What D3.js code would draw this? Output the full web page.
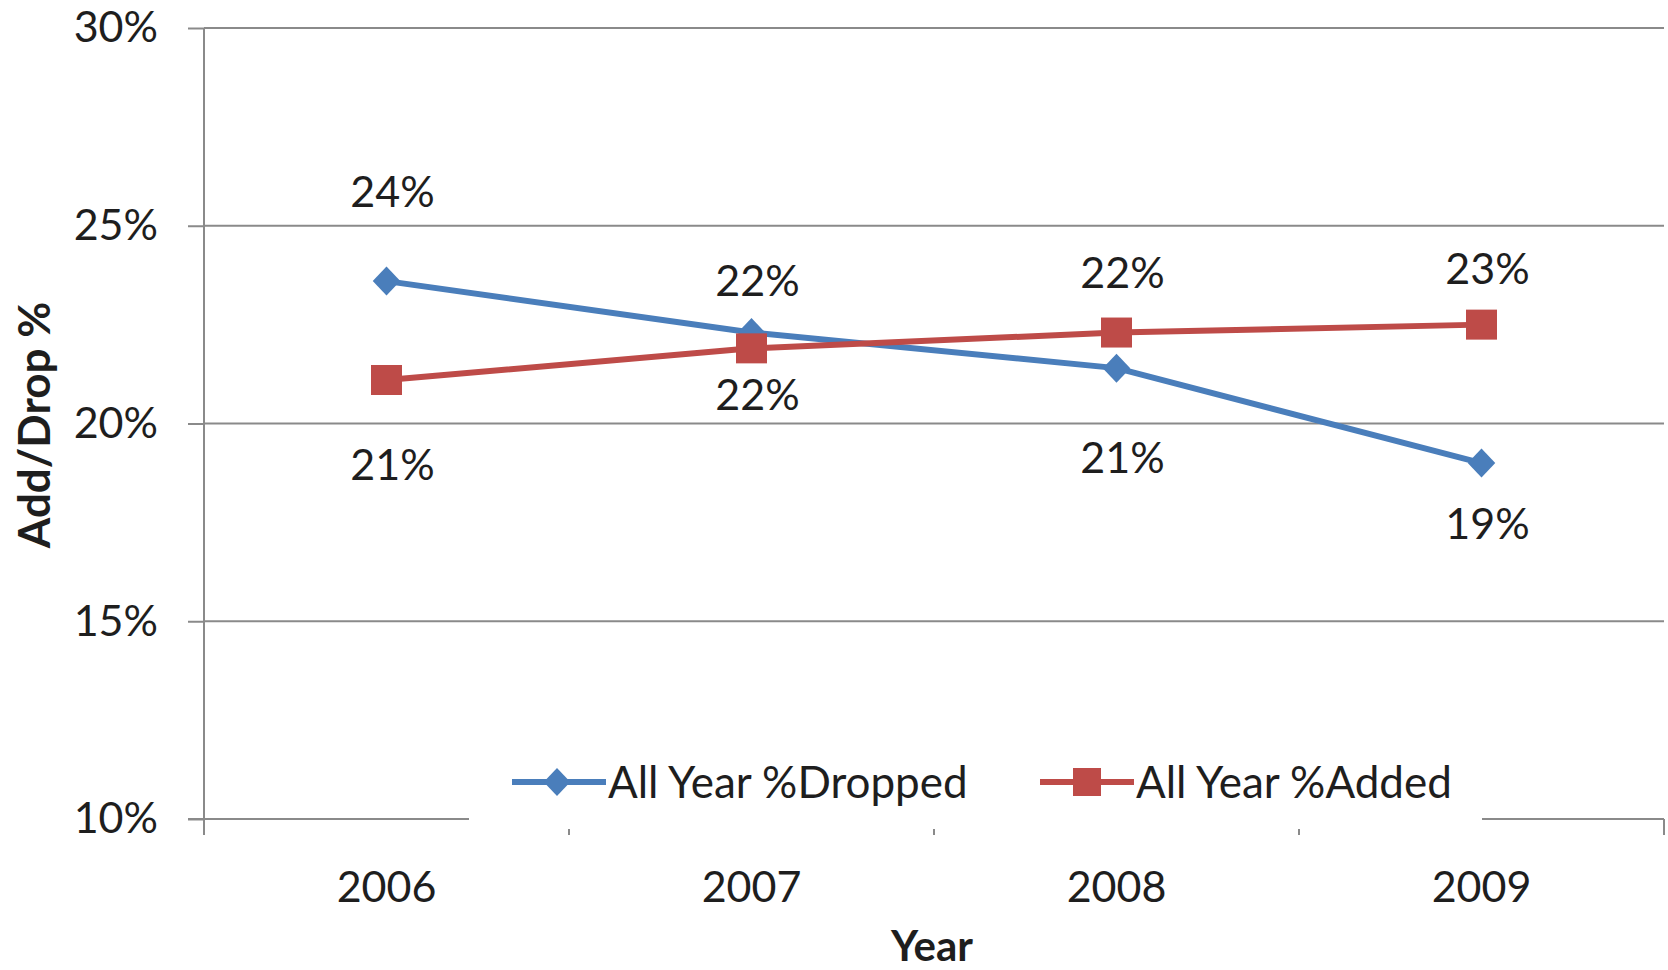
<!DOCTYPE html>
<html>
<head>
<meta charset="utf-8">
<script src="https://cdn.jsdelivr.net/npm/d3@7"></script>
<style>
  html, body { margin: 0; padding: 0; background: #fff; }
  svg { display: block; }
  text { font-family: Lato, "Open Sans", sans-serif; fill: #1e1e1e; }
</style>
</head>
<body>
<svg id="chart" width="1668" height="970"></svg>
<script>
// Add/drop rates per year
const years = ["2006", "2007", "2008", "2009"];
const droppedValues = [0.236, 0.223, 0.214, 0.190];
const addedValues = [0.211, 0.219, 0.223, 0.225];
const yTickValues = [0.10, 0.15, 0.20, 0.25, 0.30];
const seriesNames = ["All Year %Dropped", "All Year %Added"];

// Label placement (pixel offsets from each point)
const droppedLabelDy = [-90, -52, 89, 60];
const addedLabelDy = [85, 46, -60, -56];

const W = 1668, H = 970;
const plot = { left: 204, right: 1664, top: 28, bottom: 819 };
const gridColor = "#8a8a8a";
const blue = "#4a7ebb";
const red = "#be4b48";
const fontSize = 43;

const svg = d3.select("#chart");
svg.append("rect").attr("width", W).attr("height", H).attr("fill", "#fff");

const x = d3.scaleBand().domain(years).range([plot.left, plot.right]).padding(0);
const y = d3.scaleLinear().domain([0.10, 0.30]).range([plot.bottom, plot.top]);
const cx = d => x(d) + x.bandwidth() / 2;

// Horizontal gridlines
svg.append("g").selectAll("line").data(yTickValues.slice(1)).join("line")
  .attr("x1", plot.left).attr("x2", plot.right)
  .attr("y1", d => y(d)).attr("y2", d => y(d))
  .attr("stroke", gridColor).attr("stroke-width", 2);

// Y axis
const yAxis = svg.append("g").attr("transform", `translate(${plot.left},0)`)
  .call(d3.axisLeft(y).tickValues(yTickValues).tickFormat(d3.format(".0%")).tickSize(16).tickPadding(30));
yAxis.select(".domain").remove();
yAxis.selectAll(".tick line").attr("stroke", gridColor).attr("stroke-width", 2);
yAxis.selectAll(".tick text").attr("font-size", fontSize).attr("font-family", "Lato").attr("fill", "#1e1e1e");
svg.append("line")
  .attr("x1", plot.left).attr("x2", plot.left)
  .attr("y1", plot.top).attr("y2", plot.bottom + 15)
  .attr("stroke", gridColor).attr("stroke-width", 2);

// X axis line and tick marks between categories
svg.append("line")
  .attr("x1", plot.left - 16).attr("x2", plot.right)
  .attr("y1", plot.bottom).attr("y2", plot.bottom)
  .attr("stroke", gridColor).attr("stroke-width", 2);
const tickXs = years.map(d => x(d)).concat([plot.right]);
svg.append("g").selectAll("line").data(tickXs).join("line")
  .attr("x1", d => d).attr("x2", d => d)
  .attr("y1", plot.bottom).attr("y2", plot.bottom + 16)
  .attr("stroke", gridColor).attr("stroke-width", 2);

const xAxis = svg.append("g").attr("transform", `translate(0,${plot.bottom})`)
  .call(d3.axisBottom(x).tickSize(0).tickPadding(52));
xAxis.select(".domain").remove();
xAxis.selectAll(".tick text").attr("font-size", fontSize).attr("font-family", "Lato").attr("fill", "#1e1e1e");

// Axis titles
svg.append("text")
  .attr("x", 932).attr("y", 961)
  .attr("text-anchor", "middle").attr("font-size", 42).attr("font-weight", 700)
  .text("Year");
svg.append("text")
  .attr("transform", "translate(50,425) rotate(-90)")
  .attr("text-anchor", "middle").attr("font-size", 44).attr("font-weight", 700)
  .text("Add/Drop %");

// Series lines
const line = d3.line().x((d, i) => cx(years[i])).y(d => y(d));
svg.append("path").datum(droppedValues).attr("d", line)
  .attr("fill", "none").attr("stroke", blue).attr("stroke-width", 6).attr("stroke-linejoin", "round");
svg.append("path").datum(addedValues).attr("d", line)
  .attr("fill", "none").attr("stroke", red).attr("stroke-width", 6).attr("stroke-linejoin", "round");

// Markers
const diamond = (s) => `M0,${-s}L${s * 0.95},0L0,${s}L${-s * 0.95},0Z`;
svg.append("g").selectAll("path").data(droppedValues).join("path")
  .attr("transform", (d, i) => `translate(${cx(years[i])},${y(d)})`)
  .attr("d", diamond(14.5)).attr("fill", blue);
svg.append("g").selectAll("rect").data(addedValues).join("rect")
  .attr("x", (d, i) => cx(years[i]) - 15.5).attr("y", d => y(d) - 15)
  .attr("width", 31).attr("height", 30).attr("fill", red);

// Data labels
const pct = v => Math.round(v * 100) + "%";
svg.append("g").selectAll("text").data(droppedValues).join("text")
  .attr("x", (d, i) => cx(years[i]) + 6).attr("y", (d, i) => y(d) + droppedLabelDy[i])
  .attr("dy", "0.36em").attr("text-anchor", "middle").attr("font-size", fontSize)
  .text(pct);
svg.append("g").selectAll("text").data(addedValues).join("text")
  .attr("x", (d, i) => cx(years[i]) + 6).attr("y", (d, i) => y(d) + addedLabelDy[i])
  .attr("dy", "0.36em").attr("text-anchor", "middle").attr("font-size", fontSize)
  .text(pct);

// Legend
const legend = svg.append("g");
legend.append("rect").attr("x", 469).attr("y", 742).attr("width", 1013).attr("height", 87).attr("fill", "#fff");
const legendItems = [
  { name: seriesNames[0], color: blue, x0: 512, marker: "diamond" },
  { name: seriesNames[1], color: red, x0: 1040, marker: "square" }
];
const ly = 782;
legendItems.forEach(it => {
  legend.append("line").attr("x1", it.x0).attr("x2", it.x0 + 94)
    .attr("y1", ly).attr("y2", ly).attr("stroke", it.color).attr("stroke-width", 6);
  if (it.marker === "diamond") {
    legend.append("path").attr("transform", `translate(${it.x0 + 45},${ly})`)
      .attr("d", diamond(14)).attr("fill", it.color);
  } else {
    legend.append("rect").attr("x", it.x0 + 47 - 14).attr("y", ly - 14)
      .attr("width", 28).attr("height", 28).attr("fill", it.color);
  }
  legend.append("text").attr("x", it.x0 + 96).attr("y", ly).attr("dy", "0.36em")
    .attr("font-size", 44).text(it.name);
});
</script>
</body>
</html>
